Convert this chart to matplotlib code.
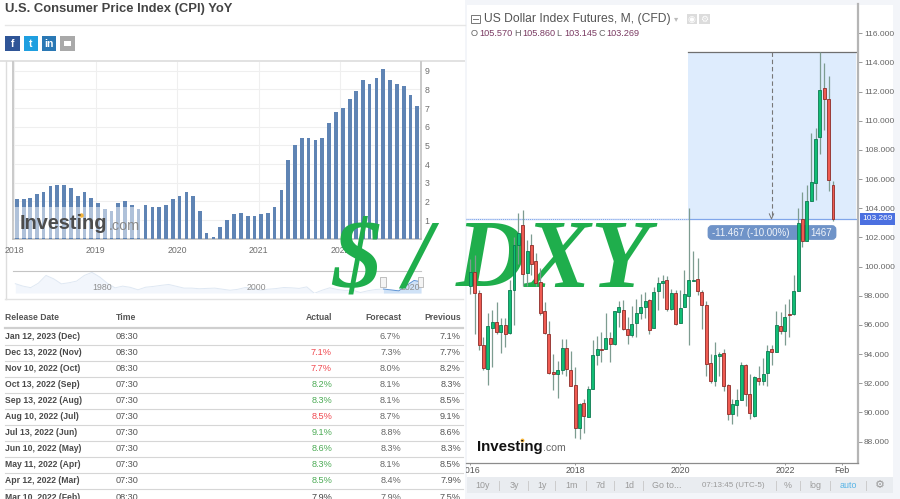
import numpy as np
import pandas as pd
import matplotlib
matplotlib.use('Agg')
import matplotlib.pyplot as plt
import matplotlib.dates as mdates
from matplotlib.patches import Rectangle, FancyBboxPatch
from matplotlib.transforms import Bbox

plt.rcParams['font.family'] = ['Liberation Sans', 'DejaVu Sans']

# CPI YoY, one bar per release (Jan 2018 .. Dec 2022)
cpi_values = [2.1, 2.1, 2.2, 2.4, 2.5, 2.8, 2.9, 2.9, 2.7, 2.3, 2.5, 2.2,
              1.9, 1.6, 1.5, 1.9, 2.0, 1.8, 1.6, 1.8, 1.7, 1.7, 1.8, 2.1,
              2.3, 2.5, 2.3, 1.5, 0.3, 0.1, 0.6, 1.0, 1.3, 1.4, 1.2, 1.2,
              1.3, 1.4, 1.7, 2.6, 4.2, 5.0, 5.4, 5.4, 5.3, 5.4, 6.2, 6.8,
              7.0, 7.5, 7.9, 8.5, 8.3, 8.6, 9.1, 8.5, 8.3, 8.2, 7.7, 7.1]
cpi_years = [2018, 2019, 2020, 2021, 2022]
cpi_ticks = [1, 2, 3, 4, 5, 6, 7, 8, 9]

# overview strip under the bars
nav_years = [1970, 1971, 1972, 1973, 1974, 1975, 1976, 1977, 1978, 1979, 1980, 1981,
             1982, 1983, 1984, 1985, 1986, 1987, 1988, 1989, 1990, 1991, 1992, 1993,
             1994, 1995, 1996, 1997, 1998, 1999, 2000, 2001, 2002, 2003, 2004, 2005,
             2006, 2007, 2008, 2009, 2010, 2011, 2012, 2013, 2014, 2015, 2016, 2017,
             2018, 2019, 2020, 2021, 2022, 2022.9]
nav_values = [5.9, 4.3, 3.3, 6.2, 11.3, 9.1, 5.8, 6.5, 7.6, 11.3, 13.3, 10.3,
              6.2, 3.2, 4.3, 3.5, 1.9, 3.6, 4.1, 4.8, 5.4, 4.2, 3.0, 3.0,
              2.6, 2.8, 3.0, 2.3, 1.6, 2.2, 3.4, 2.8, 1.6, 2.3, 2.7, 3.4,
              3.2, 2.8, 3.8, -0.4, 1.6, 3.2, 2.1, 1.5, 1.6, 0.1, 1.3, 2.1,
              2.4, 1.8, 1.2, 4.7, 8.0, 7.1]

# release table
table_dates = ['Jan 12, 2023 (Dec)', 'Dec 13, 2022 (Nov)', 'Nov 10, 2022 (Oct)', 'Oct 13, 2022 (Sep)',
               'Sep 13, 2022 (Aug)', 'Aug 10, 2022 (Jul)', 'Jul 13, 2022 (Jun)', 'Jun 10, 2022 (May)',
               'May 11, 2022 (Apr)', 'Apr 12, 2022 (Mar)', 'Mar 10, 2022 (Feb)']
table_times = ['08:30', '08:30', '08:30', '07:30', '07:30', '07:30', '07:30', '07:30', '07:30', '07:30', '08:30']
table_actual = ['', '7.1%', '7.7%', '8.2%', '8.3%', '8.5%', '9.1%', '8.6%', '8.3%', '8.5%', '7.9%']
table_forecast = ['6.7%', '7.3%', '8.0%', '8.1%', '8.1%', '8.7%', '8.8%', '8.3%', '8.1%', '8.4%', '7.9%']
table_previous = ['7.1%', '7.7%', '8.2%', '8.3%', '8.5%', '9.1%', '8.6%', '8.3%', '8.5%', '7.9%', '7.5%']
table_state = ['', 'bad', 'bad', 'good', 'good', 'bad', 'good', 'good', 'good', 'good', '']

# DXY monthly candles, Jan 2016 .. Dec 2022
dxy_open = [98.7, 99.6, 98.2, 94.65, 93.0, 95.8, 96.2, 95.5, 96.0, 95.47, 98.4, 101.5,
            102.83, 99.56, 101.46, 100.4, 98.97, 96.93, 95.4, 92.8, 92.6, 92.93, 94.39, 92.89,
            91.9, 88.95, 90.65, 89.7, 91.63, 93.94, 94.35, 94.35, 95.1, 94.7, 96.9, 97.05,
            95.7, 95.3, 96.13, 96.82, 97.23, 97.69, 95.79, 98.33, 98.88, 99.06, 97.09, 98.21,
            96.13, 97.23, 97.98, 99.0, 99.17, 98.26, 97.39, 93.39, 92.18, 93.85, 94.07, 91.9,
            89.9, 90.53, 90.87, 93.23, 91.29, 89.75, 92.34, 92.13, 92.7, 94.34, 94.14, 95.95,
            95.61, 96.72, 96.75, 98.35, 103.25, 101.78, 104.53, 105.76, 108.87, 112.23, 111.48, 105.57]
dxy_close = [99.6, 98.2, 94.6, 93.05, 95.9, 96.2, 95.5, 96.0, 95.4, 98.4, 101.5, 102.3,
             99.5, 101.1, 100.2, 98.9, 96.84, 95.45, 92.7, 92.64, 92.9, 94.44, 92.98, 91.83,
             88.95, 90.55, 89.75, 91.63, 93.96, 94.35, 94.3, 95.13, 94.7, 96.93, 97.2, 95.72,
             95.3, 96.04, 96.84, 97.2, 97.66, 95.68, 98.26, 98.87, 99.01, 97.1, 98.21, 96.04,
             97.18, 98.1, 99.1, 99.05, 98.35, 97.34, 93.34, 92.15, 93.96, 94.03, 91.83, 89.9,
             90.58, 90.87, 93.23, 91.29, 89.98, 92.43, 92.18, 92.66, 94.23, 94.14, 96.02, 95.61,
             96.54, 96.7, 98.35, 102.97, 101.78, 104.5, 105.8, 108.73, 112.12, 111.48, 105.94, 103.269]
dxy_high = [100.5, 100.8, 98.4, 95.2, 96.8, 97.0, 97.6, 96.5, 96.5, 99.1, 102.0, 103.66,
            103.9, 101.8, 102.26, 100.9, 99.9, 97.57, 96.25, 94.03, 93.5, 95.06, 95.06, 94.2,
            93.1, 90.65, 90.94, 91.8, 94.99, 95.26, 95.5, 96.82, 95.5, 96.95, 97.64, 97.73,
            96.54, 97.28, 97.8, 98.14, 98.26, 97.8, 98.6, 99.3, 99.4, 99.34, 98.49, 98.37,
            98.37, 99.79, 104.0, 101.07, 100.6, 98.4, 97.64, 94.03, 94.8, 94.14, 94.37, 91.95,
            90.95, 91.58, 93.46, 93.3, 92.66, 92.5, 93.18, 93.73, 94.6, 94.6, 96.96, 96.89,
            97.46, 97.8, 99.4, 104.0, 105.1, 105.6, 109.14, 109.5, 114.75, 113.95, 113.08, 105.86]
dxy_low = [98.1, 95.35, 94.3, 92.9, 91.9, 93.1, 95.35, 94.1, 94.5, 95.4, 95.97, 100.2,
           98.7, 98.7, 99.4, 98.65, 96.7, 95.35, 92.66, 91.56, 91.0, 92.6, 92.5, 91.83,
           88.25, 88.2, 88.6, 89.7, 91.63, 93.23, 93.46, 94.35, 93.46, 94.65, 95.86, 95.63,
           94.67, 95.2, 95.17, 96.43, 96.5, 95.35, 95.79, 97.05, 97.87, 96.96, 97.05, 95.97,
           96.13, 97.23, 94.6, 99.0, 98.03, 95.74, 92.5, 92.0, 91.8, 92.47, 91.5, 89.5,
           89.2, 89.73, 90.83, 90.42, 89.57, 89.68, 91.86, 91.86, 91.8, 93.27, 94.14, 95.4,
           94.65, 95.17, 96.66, 98.35, 101.37, 101.78, 104.53, 104.57, 107.73, 109.4, 105.2, 103.145]
dxy_price_ticks = [88, 90, 92, 94, 96, 98, 100, 102, 104, 106, 108, 110, 112, 114, 116]
dxy_time_labels = ['2016', '2018', '2020', '2022', 'Feb']
dxy_time_months = [0, 24, 48, 72, 85]
toolbar_items = ['10y', '3y', '1y', '1m', '7d', '1d', 'Go to...', '07:13:45 (UTC-5)', '%', 'log', 'auto']
measure_top = 114.736
measure_bottom = 103.269

W, H = 900, 499


def px_axes(x0, y0, x1, y1, **kw):
    return fig.add_axes([x0 / W, 1 - y1 / H, (x1 - x0) / W, (y1 - y0) / H], **kw)


def page_layer(z):
    ax = px_axes(0, 0, W, H, zorder=z)
    ax.set_xlim(0, W)
    ax.set_ylim(H, 0)
    ax.axis('off')
    return ax


fig = plt.figure(figsize=(W / 100, H / 100), dpi=100, facecolor='white')

# page layer in pixel coordinates
bg = page_layer(0)

bg.text(5, 8.5, 'U.S. Consumer Price Index (CPI) YoY', fontsize=9.4, fontweight='bold', color='#444444', va='center')
bg.plot([5, 465], [25, 25], color='#e6e6e6', lw=1)
for x, col, glyph in zip([5, 23.5, 41.5, 60], ['#2f5597', '#1f9fe0', '#2a78b4', '#a9a9a9'], ['f', 't', 'in', '']):
    bg.add_patch(Rectangle((x, 36), 14.5, 14.5, color=col, lw=0))
    bg.text(x + 7.2, 43.5, glyph, color='white', fontsize=7.5, fontweight='bold', ha='center', va='center')
bg.add_patch(Rectangle((63.5, 40.5), 7.5, 5.5, color='white', lw=0))
bg.add_patch(Rectangle((0, 60), 465, 1.6, color='#e2e2e2', lw=0))
bg.plot([5.5, 5.5], [61, 299], color='#dddddd', lw=1)
bg.plot([5, 463], [299, 299], color='#e2e2e2', lw=1)

# table
header_y = 318
row_h = 16.05
first_row = 336.5
bold_size = 6.25
for x, label, ha in zip([5, 116, 332, 401, 461], ['Release Date', 'Time', 'Actual', 'Forecast', 'Previous'],
                        ['left', 'left', 'right', 'right', 'right']):
    bg.text(x, header_y, label, fontsize=bold_size, fontweight='bold', color='#555555', va='center', ha=ha)
bg.plot([5, 463], [328, 328], color='#cfcfcf', lw=1.6)
state_colors = {'': '#444444', 'bad': '#f0484f', 'good': '#4cab55'}
for i in range(len(table_dates)):
    y = first_row + i * row_h
    bg.text(5, y, table_dates[i], fontsize=bold_size, fontweight='bold', color='#4a4a4a', va='center')
    bg.text(116, y, table_times[i], fontsize=6.6, color='#555555', va='center')
    bg.text(332, y, table_actual[i], fontsize=6.6, color=state_colors[table_state[i]], va='center', ha='right')
    bg.text(401, y, table_forecast[i], fontsize=6.6, color='#666666', va='center', ha='right')
    bg.text(461, y, table_previous[i], fontsize=6.6, color='#555555', va='center', ha='right')
    bg.plot([5, 463], [y + 8, y + 8], color='#d6d6d6', lw=0.8)

# right hand panel furniture
bg.add_patch(Rectangle((465, 0), 435, 499, color='#f3f5f9', lw=0))
bg.add_patch(Rectangle((467, 5), 426, 472, color='white', lw=0))
bg.add_patch(Rectangle((467, 477), 426, 16, color='#e9ecf0', lw=0))
bg.add_patch(Rectangle((471, 14.5), 8.5, 8.5, fill=False, ec='#777777', lw=0.7))
bg.plot([473, 477.5], [18.8, 18.8], color='#777777', lw=0.7)
bg.text(484, 18.8, 'US Dollar Index Futures, M, (CFD)', fontsize=8.7, color='#555555', va='center')
bg.text(676.5, 19, '▾', fontsize=6, color='#bbbbbb', ha='center', va='center', family='DejaVu Sans')
for x, glyph in zip([691.5, 704], ['◉', '⚙']):
    bg.add_patch(Rectangle((x - 5, 14), 10.5, 10, color='#dcdcdc', lw=0))
    bg.text(x, 19, glyph, fontsize=6.5, color='white', ha='center', va='center', family='DejaVu Sans')
ohlc_x = [470.5, 479, 514, 522, 556.5, 564, 598.5, 606]
ohlc_text = ['O', '105.570', 'H', '105.860', 'L', '103.145', 'C', '103.269']
for x, t in zip(ohlc_x, ohlc_text):
    bg.text(x, 33.5, t, fontsize=6.6, va='center', color='#666666' if len(t) == 1 else '#7a3a62')

# measuring label sits under the candles
bg.add_patch(FancyBboxPatch((709, 226.5), 126, 12, boxstyle='round,pad=0,rounding_size=3',
                            mutation_aspect=1, color='#6f93c8', lw=2))
bg.text(712.5, 232.5, '-11.467 (-10.00%)', fontsize=7, color='#f2f5fa', va='center')
bg.text(810, 232.5, '1467', fontsize=7, color='#f2f5fa', va='center')

# toolbar
toolbar_x = [483, 514, 542, 571, 600, 629, 667, 733, 788, 815, 848]
for x, t in zip(toolbar_x, toolbar_items):
    bg.text(x, 485.5, t, fontsize=5.8 if 'UTC' in t else 6.4, color='#58b4e6' if t == 'auto' else '#9a9a9a',
            ha='center', va='center')
for x in [499, 528, 555, 586, 614, 643, 776, 800, 830, 866]:
    bg.plot([x, x], [481, 490], color='#cccccc', lw=0.7)
bg.text(880, 485, '⚙', fontsize=8, color='#999999', ha='center', va='center', family='DejaVu Sans')

# CPI bars
ax_cpi = px_axes(13, 62, 421, 238.7, zorder=1)
px_per_day = 81.5 / 365.25
release = pd.date_range('2018-01-01', periods=len(cpi_values), freq='MS') + pd.Timedelta(days=11)
start = pd.Timestamp('2018-01-01')
ax_cpi.set_xlim(start - pd.Timedelta(days=1.3 / px_per_day), start + pd.Timedelta(days=406.7 / px_per_day))
ax_cpi.set_ylim(0, 176.7 / 18.67)
ax_cpi.bar(release, cpi_values, width=3.7 / px_per_day, color='#5f84b4', zorder=3)
ax_cpi.set_xticks([pd.Timestamp(f'{y}-01-01') for y in cpi_years])
ax_cpi.xaxis.set_major_formatter(mdates.DateFormatter('%Y'))
ax_cpi.yaxis.tick_right()
ax_cpi.set_yticks(cpi_ticks)
ax_cpi.tick_params(axis='both', length=0, labelsize=6.3, labelcolor='#6e6e6e')
ax_cpi.tick_params(axis='x', pad=5.5)
ax_cpi.tick_params(axis='y', pad=2.5)
ax_cpi.grid(True, color='#efefef', lw=0.8, zorder=0)
ax_cpi.spines['top'].set_visible(False)
for s in ['left', 'right', 'bottom']:
    ax_cpi.spines[s].set_color('#bcbcbc')
    ax_cpi.spines[s].set_linewidth(1.1)

# watermark washes out the bars behind it
wash = page_layer(1.5)
wash.add_patch(Rectangle((14, 207), 127.5, 31, color='white', alpha=0.5, lw=0))
wash.text(19.5, 223.5, 'Investing', fontsize=14.3, fontweight='bold', color='#4c4c4c', va='center')
wash.text(109, 225.5, '.com', fontsize=10.4, color='#8a8a8a', va='center')
wash.plot([81], [215], 'o', ms=2.2, color='#f4b43c')

# navigator
ax_nav = px_axes(13, 271, 421, 293, zorder=1)
ax_nav.set_xlim(1969.7, 2022.9)
ax_nav.set_ylim(-0.2, 14.2)
ax_nav.fill_between(nav_years, nav_values, -0.2, color='#f2f6fc', lw=0)
ax_nav.plot(nav_years, nav_values, color='#dfe8f3', lw=0.7)
sel_years = [y for y in nav_years if y >= 2018]
sel_vals = nav_values[-len(sel_years):]
ax_nav.fill_between(sel_years, sel_vals, -0.2, color='#cfe2f7', lw=0)
ax_nav.plot(sel_years, sel_vals, color='#5f95d6', lw=0.7)
ax_nav.set_xticks([])
ax_nav.set_yticks([])
for s in ax_nav.spines.values():
    s.set_visible(False)
ax_nav.spines['top'].set_visible(True)
ax_nav.spines['top'].set_color('#c4c4c4')
for year, x in zip(['1980', '2000', '2020'], [102, 256, 410]):
    wash.text(x, 287, year, fontsize=6.3, color='#8f8f8f', ha='center', va='center')
for x in [383, 420.5]:
    wash.add_patch(Rectangle((x - 2.8, 277), 5.6, 10, fc='#f4f4f4', ec='#b5b5b5', lw=0.6))

# headline over both charts, candles stay in front of it
fig.text(332 / W, 1 - 287 / H, '$ / DXY', fontsize=69.8, family='Liberation Serif', fontweight='bold',
         style='italic', color='#1fae4c', zorder=2, va='baseline')

# DXY candles
ax_dxy = px_axes(466, 4, 857.7, 463, zorder=3)
ax_dxy.patch.set_alpha(0)
spacing = 4.37
n = len(dxy_close)
idx = np.arange(n)
ax_dxy.set_xlim(n - 1 - (833 - 466) / spacing, n - 1 + (857.7 - 833) / spacing)
ax_dxy.set_ylim(116 - (463 - 33.3) / 14.58, 116 + (33.3 - 4) / 14.58)

box_left = n - 1 - (833 - 688) / spacing
box_right = n - 1 + (855.5 - 833) / spacing
ax_dxy.add_patch(Rectangle((box_left, measure_bottom), box_right - box_left, measure_top - measure_bottom,
                           color='#deecfd', lw=0, zorder=0))
ax_dxy.plot([box_left, box_right], [measure_top, measure_top], color='#6f6f6f', lw=0.9, zorder=1)
ax_dxy.axhline(measure_bottom, color='#80a6ea', lw=0.9, zorder=1)
ax_dxy.plot([ax_dxy.get_xlim()[0], box_left], [measure_bottom, measure_bottom],
            color='white', lw=0.5, ls=(0, (1.5, 1.5)), zorder=1.1)
mid = n - 1 - (833 - 771.5) / spacing
ax_dxy.plot([mid, mid], [measure_top, measure_bottom + 0.2], color='#777777', lw=0.8, ls=(0, (4, 2.5)), zorder=1)
ax_dxy.plot([mid - 0.5, mid, mid + 0.5], [measure_bottom + 0.35, measure_bottom, measure_bottom + 0.35],
            color='#777777', lw=0.7, zorder=1)

o = np.array(dxy_open)
c = np.array(dxy_close)
up = c >= o
ax_dxy.vlines(idx, dxy_low, dxy_high, color='#7d9c90', lw=0.9, zorder=2)
ax_dxy.bar(idx[up], (c - o)[up], bottom=o[up], width=0.68, color='#10bd74', edgecolor='#0c7a50', lw=0.6, zorder=3)
ax_dxy.bar(idx[~up], (c - o)[~up], bottom=o[~up], width=0.68, color='#ef5b52', edgecolor='#8e2c28', lw=0.6, zorder=3)

ax_dxy.set_xticks(dxy_time_months)
ax_dxy.set_xticklabels(dxy_time_labels)
ax_dxy.yaxis.tick_right()
ax_dxy.set_yticks(dxy_price_ticks)
ax_dxy.set_yticklabels([f'{p:.3f}' for p in dxy_price_ticks])
ax_dxy.tick_params(axis='y', length=3, width=0.7, color='#999999', labelsize=6, labelcolor='#666666', pad=1.5)
ax_dxy.tick_params(axis='x', length=1.5, width=0.7, color='#999999', labelsize=6.3, labelcolor='#555555', pad=1)
for lab in ax_dxy.get_xticklabels():
    lab.set_clip_on(True)
    lab.set_clip_box(Bbox([[466, 0], [900, 499]]))
for s in ['top', 'left']:
    ax_dxy.spines[s].set_visible(False)
ax_dxy.spines['right'].set_color('#b5b5b5')
ax_dxy.spines['right'].set_linewidth(1.6)
ax_dxy.spines['bottom'].set_color('#8c8c8c')
ax_dxy.spines['bottom'].set_linewidth(0.9)

ax_dxy.annotate('103.269', (1.0, measure_bottom), xycoords=ax_dxy.get_yaxis_transform(),
                xytext=(3.2, 0), textcoords='offset points', fontsize=6, color='white', va='center', ha='left',
                bbox=dict(boxstyle='square,pad=0.3', fc='#4b70e0', ec='none'), annotation_clip=False)

# front logo
front = page_layer(4)
front.text(477, 446.5, 'Investing', fontsize=10.8, fontweight='bold', color='#111111', va='center')
front.text(543, 448, '.com', fontsize=7.6, color='#666666', va='center')
front.plot([522], [440], 'o', ms=1.8, color='#f4b43c')

fig.savefig('out.png', dpi=100)
